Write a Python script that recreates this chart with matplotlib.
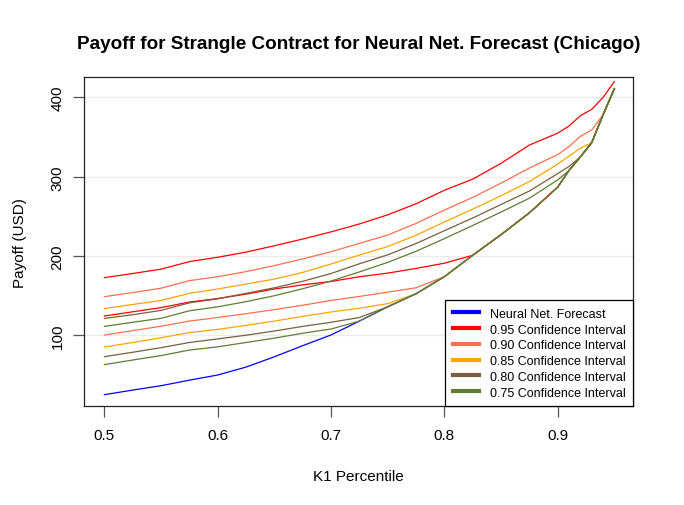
import matplotlib
matplotlib.use("Agg")
import matplotlib.pyplot as plt

plt.rcParams['font.family'] = ['Liberation Sans', 'DejaVu Sans']

# K1 percentile grid
k1 = [0.50, 0.525, 0.55, 0.575, 0.60, 0.625, 0.65, 0.675, 0.70, 0.725,
      0.75, 0.775, 0.80, 0.825, 0.85, 0.875, 0.90, 0.91, 0.92, 0.93, 0.94, 0.95]

# payoff; lower bounds join the forecast curve at the right
forecast = [25.2, 31, 36.5, 43.5, 50, 60, 73, 87, 100.5, 118,
            136, 152.5, 174, 201, 227, 254.5, 287, 308, 325, 343, 378, 411]

ci95_upper = [172.8, 178, 183.5, 193, 198.5, 205, 213, 221.5, 230.5, 240.5,
              252, 266, 283, 297, 317, 340, 355, 364, 377, 385, 400, 420]
ci95_lower = [124.4, 129.7, 135, 142, 146.5, 152, 158.5, 163.7, 168, 173.9,
              178.5, 184.4, 191, 201, 227, 254.5, 287, 308, 325, 343, 378, 411]

ci90_upper = [148.8, 154, 159.5, 169, 174, 180.4, 188, 196.4, 205.5, 216,
              226.5, 241.2, 258, 274, 292, 311, 328, 338, 351, 359, 378, 411]
ci90_lower = [100.4, 106, 111.5, 118, 122.5, 127.3, 132.5, 138, 144, 149.1,
              154.5, 160, 174, 201, 227, 254.5, 287, 308, 325, 343, 378, 411]

ci85_upper = [133.7, 139, 144, 153, 158.5, 164.7, 171, 179.4, 190, 201.3,
              212, 226.2, 243, 259.2, 276, 294, 316, 326, 336, 343, 378, 411]
ci85_lower = [85.3, 91, 97, 103.5, 107.5, 112.6, 118, 123.9, 129.5, 134.2,
              140, 152.5, 174, 201, 227, 254.5, 287, 308, 325, 343, 378, 411]

ci80_upper = [121.4, 126, 131.5, 141, 146, 153, 160, 168.2, 178, 190.3,
              201.5, 215.8, 232, 248, 265, 282, 304, 313, 325, 343, 378, 411]
ci80_lower = [73.1, 78.7, 84.5, 91, 95.5, 100.2, 105.5, 111.3, 116.5, 122.5,
              136, 152.5, 174, 201, 227, 254.5, 287, 308, 325, 343, 378, 411]

ci75_upper = [111.3, 116.5, 121.5, 131, 136, 142.5, 150, 158.8, 168.5, 180,
              192, 206, 222, 238.6, 255.5, 273, 296, 308, 325, 343, 378, 411]
ci75_lower = [63.1, 68.9, 74.5, 81.5, 85.5, 91, 96.5, 102.7, 108, 118,
              136, 152.5, 174, 201, 227, 254.5, 287, 308, 325, 343, 378, 411]

labels = ['Neural Net. Forecast', '0.95 Confidence Interval', '0.90 Confidence Interval',
          '0.85 Confidence Interval', '0.80 Confidence Interval', '0.75 Confidence Interval']
colors = ['#0000FF', '#FF0000', '#FF6E4F', '#FFA500', '#7B5E3B', '#5D7D33']

y_ticks = [100, 200, 300, 400]
x_ticks = [0.5, 0.6, 0.7, 0.8, 0.9]


def main():
    fig = plt.figure(figsize=(6.84, 5.06), dpi=100)
    ax = fig.add_axes([0.1228, 0.195, 0.8032, 0.650])

    for yt in y_ticks:
        ax.axhline(yt, color='#EBEBEB', lw=1, zorder=0)

    lw = 0.9
    ax.plot(k1, forecast, color=colors[0], lw=lw)
    bands = [(ci95_upper, ci95_lower), (ci90_upper, ci90_lower), (ci85_upper, ci85_lower),
             (ci80_upper, ci80_lower), (ci75_upper, ci75_lower)]
    for (up, lo), c in zip(bands, colors[1:]):
        ax.plot(k1, up, color=c, lw=lw)
        ax.plot(k1, lo, color=c, lw=lw)

    ax.set_xlim(0.482, 0.9668)
    ax.set_ylim(10.5, 425.3)
    ax.set_xticks(x_ticks)
    ax.set_xticklabels(['0.5', '0.6', '0.7', '0.8', '0.9'])
    ax.set_yticks(y_ticks)
    ax.set_yticklabels([str(v) for v in y_ticks], rotation=90, va='center')
    ax.tick_params(direction='out', length=7.9, width=0.9, color='#555555', labelsize=11)
    ax.tick_params(axis='x', pad=7.5)
    ax.tick_params(axis='y', pad=6)
    for s in ax.spines.values():
        s.set_linewidth(0.9)
        s.set_color('#222222')

    ax.set_title('Payoff for Strangle Contract for Neural Net. Forecast (Chicago)',
                 fontsize=13.6, fontweight='bold', pad=21)
    ax.set_xlabel('K1 Percentile', fontsize=11, labelpad=20)
    ax.set_ylabel('Payoff (USD)', fontsize=11, labelpad=17)

    handles = [plt.Line2D([], [], color=c, lw=3) for c in colors]
    leg = ax.legend(handles, labels, loc='lower right', fontsize=9, frameon=True,
                    fancybox=False, framealpha=1, edgecolor='black', borderaxespad=0,
                    handlelength=2.1, handletextpad=0.85, labelspacing=0.3,
                    borderpad=0.62)
    leg.get_frame().set_linewidth(0.9)

    fig.savefig('out.png', dpi=100)


if __name__ == '__main__':
    main()
